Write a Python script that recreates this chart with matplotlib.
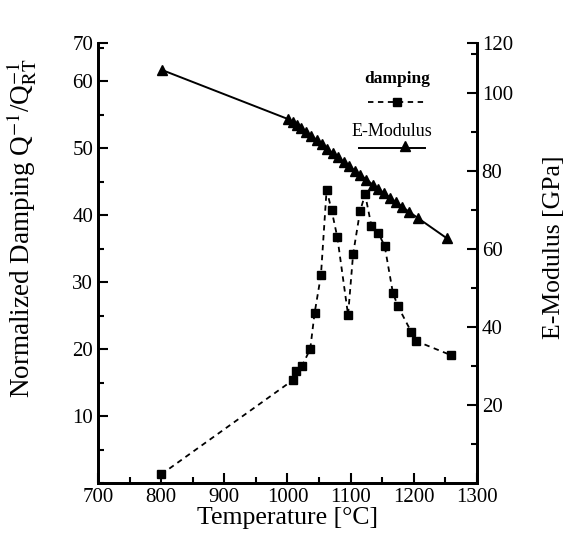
import matplotlib
matplotlib.use("Agg")
import matplotlib.pyplot as plt
from matplotlib.ticker import FixedLocator, MultipleLocator

plt.rcParams["font.family"] = ["Liberation Serif", "DejaVu Serif"]
plt.rcParams["mathtext.fontset"] = "stix"

# damping, left axis
damp_temp = [800, 1009, 1013, 1023, 1036, 1043, 1053, 1062, 1070, 1079, 1096,
             1104, 1115, 1123, 1133, 1144, 1154, 1167, 1175, 1196, 1204, 1259]
damp_val = [1.3, 15.4, 16.7, 17.5, 20.0, 25.4, 31.0, 43.8, 40.7, 36.7, 25.1,
            34.2, 40.6, 43.1, 38.4, 37.3, 35.4, 28.4, 26.4, 22.6, 21.2, 19.1]

# E-modulus, right axis
emod_temp = [801, 1001, 1008, 1015, 1022, 1030, 1038, 1046, 1055, 1063, 1072,
             1080, 1090, 1098, 1107, 1115, 1125, 1135, 1144, 1153, 1162, 1172,
             1182, 1193, 1207, 1252]
emod_val = [105.9, 93.3, 92.5, 91.7, 90.9, 89.9, 89.0, 88.0, 86.8, 85.7, 84.5,
            83.5, 82.2, 81.2, 80.0, 79.0, 77.8, 76.5, 75.4, 74.3, 73.2, 72.0,
            70.8, 69.5, 67.9, 62.8]

left_ticks = [10, 20, 30, 40, 50, 60]
right_ticks = [20, 40, 60, 80, 100]
x_ticks = [700, 800, 900, 1000, 1100, 1200, 1300]

LEFT_TOP = 65.7
RIGHT_TOP = 112.8


def style_axis(ax):
    ax.tick_params(which="both", direction="in", width=1.5, labelsize=15)
    ax.tick_params(which="major", length=7)
    ax.tick_params(which="minor", length=4)
    for side in ["left", "right", "bottom"]:
        ax.spines[side].set_linewidth(2)
    ax.spines["top"].set_visible(False)


fig = plt.figure(figsize=(5.67, 5.41), dpi=100)
ax = fig.add_axes([0.173, 0.107, 0.668, 0.8135])
ax2 = ax.twinx()

ax.plot(damp_temp, damp_val, color="black", ls=(0, (3, 2.5)), lw=1.3,
        marker="s", ms=6, zorder=3)
ax2.plot(emod_temp, emod_val, color="black", ls="-", lw=1.4,
         marker="^", ms=7.5, zorder=3)

ax.set_xlim(700, 1300)
ax.set_ylim(0, LEFT_TOP)
ax2.set_ylim(0, RIGHT_TOP)

ax.xaxis.set_major_locator(FixedLocator(x_ticks))
ax.xaxis.set_minor_locator(MultipleLocator(50))
ax.yaxis.set_major_locator(FixedLocator(left_ticks + [LEFT_TOP]))
ax.set_yticklabels([str(t) for t in left_ticks] + ["70"])
ax.yaxis.set_minor_locator(MultipleLocator(5))
ax2.yaxis.set_major_locator(FixedLocator(right_ticks + [RIGHT_TOP]))
ax2.set_yticklabels([str(t) for t in right_ticks] + ["120"])
ax2.yaxis.set_minor_locator(FixedLocator([10, 30, 50, 70, 90, 110]))

style_axis(ax)
style_axis(ax2)

ax.set_xlabel("Temperature [°C]", fontsize=18.5, labelpad=0)
ax.set_ylabel(r"Normalized Damping Q$^{-1}$/Q$^{-1}_{\rm RT}$", fontsize=19.5)
ax.yaxis.set_label_coords(-0.155, 0.58)
ax2.set_ylabel("E-Modulus [GPa]", fontsize=18.5)
ax2.yaxis.set_label_coords(1.175, 0.535)

# legend drawn as text with a sample line underneath
ax.text(0.79, 0.918, "damping", transform=ax.transAxes, ha="center",
        va="center", fontsize=12.5, fontweight="bold")
ax.plot([0.712, 0.863], [0.866, 0.866], transform=ax.transAxes,
        color="black", ls=(0, (3, 2.5)), lw=1.3)
ax.plot([0.79], [0.866], transform=ax.transAxes, color="black", marker="s",
        ms=6)
ax.text(0.775, 0.80, "E-Modulus", transform=ax.transAxes, ha="center",
        va="center", fontsize=13)
ax.plot([0.69, 0.863], [0.762, 0.762], transform=ax.transAxes,
        color="black", ls="-", lw=1.4)
ax.plot([0.81], [0.767], transform=ax.transAxes, color="black", marker="^",
        ms=7.5)

fig.savefig("out.png", dpi=100)
